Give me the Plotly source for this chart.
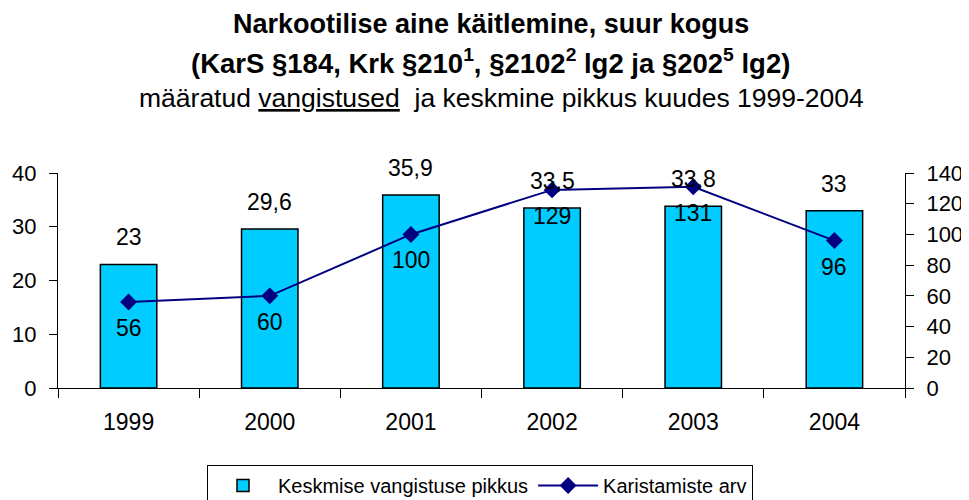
import plotly.graph_objects as go

years = ["1999", "2000", "2001", "2002", "2003", "2004"]
avg_length = [23, 29.6, 35.9, 33.5, 33.8, 33]
avg_labels = ["23", "29,6", "35,9", "33,5", "33,8", "33"]
convictions = [56, 60, 100, 129, 131, 96]
conv_labels = ["56", "60", "100", "129", "131", "96"]

FONT = "Liberation Sans, Arial, sans-serif"

# the page body has an 8px margin; the figure is sized so it ends at the window edge
OFF = 8
W, H = 969 - OFF, 500 - OFF
ML, MR, MT, MB = 58 - OFF, 64, 173 - OFF, 112
plot_top, plot_bot = 173 - OFF, 388 - OFF
plot_left, plot_w = ML, W - ML - MR

fig = go.Figure()
fig.add_trace(go.Bar(
    x=years, y=avg_length, name="Keskmise vangistuse pikkus",
    marker=dict(color="#00CCFF", line=dict(color="black", width=1.5)),
    width=0.4, yaxis="y",
))
fig.add_trace(go.Scatter(
    x=years, y=convictions, name="Karistamiste arv", yaxis="y2",
    mode="lines+markers",
    line=dict(color="#000080", width=2),
    marker=dict(symbol="diamond", size=13, color="#000080"),
))

annotations = []
for i, (v, t) in enumerate(zip(avg_length, avg_labels)):
    annotations.append(dict(x=i, y=v, xref="x", yref="y", text=t, showarrow=False,
                            yshift=27, font=dict(size=23, color="black", family=FONT)))
for i, (v, t) in enumerate(zip(convictions, conv_labels)):
    annotations.append(dict(x=i, y=v, xref="x", yref="y2", text=t, showarrow=False,
                            yshift=-26, font=dict(size=23, color="black", family=FONT)))

title_lines = [
    ("<b>Narkootilise aine käitlemine, suur kogus</b>", 24, 491, 27),
    ("<b>(KarS §184, Krk §210<sup>1</sup>, §2102<sup>2</sup> lg2 ja §202<sup>5</sup> lg2)</b>", 61, 490, 27.5),
    ("määratud <u>vangistused</u>  ja keskmine pikkus kuudes 1999-2004", 98, 501, 26.5),
]
for txt, ypix, xpix, fs in title_lines:
    yp = (plot_bot - (ypix - OFF)) / (plot_bot - plot_top)
    xp = ((xpix - OFF) - plot_left) / plot_w
    annotations.append(dict(x=xp, xref="paper", y=yp, yref="paper", text=txt,
                            showarrow=False, yanchor="middle", xanchor="center",
                            font=dict(size=fs, color="black", family=FONT)))

legend_y = (plot_bot - (465 - OFF)) / (plot_bot - plot_top)

fig.update_layout(
    width=W, height=H,
    margin=dict(l=ML, r=MR, t=MT, b=MB, autoexpand=False),
    paper_bgcolor="white", plot_bgcolor="white",
    font=dict(family=FONT, size=20, color="black"),
    showlegend=True,
    legend=dict(orientation="h", x=((480 - OFF) - plot_left) / plot_w, xanchor="center",
                y=legend_y, yanchor="top",
                bordercolor="black", borderwidth=1, font=dict(size=20, family=FONT),
                itemwidth=60),
    xaxis=dict(type="category", range=[-0.5, 5.5], showline=True, linecolor="black",
               linewidth=1, ticks="outside", ticklen=9, tickcolor="black",
               tickson="boundaries", showgrid=False, tickfont=dict(size=23),
               tickangle=0, ticklabelstandoff=13),
    yaxis=dict(range=[0, 40], dtick=10, showline=True, linecolor="black", linewidth=1,
               ticks="outside", ticklen=8, tickcolor="black", showgrid=False, zeroline=False,
               tickfont=dict(size=22), ticklabelstandoff=8),
    yaxis2=dict(range=[0, 140], dtick=20, overlaying="y", side="right", showline=True,
                linecolor="black", linewidth=1, ticks="outside", ticklen=8, tickcolor="black",
                showgrid=False, zeroline=False, tickfont=dict(size=22), ticklabelstandoff=8),
    yaxis3=dict(range=[0, 40], dtick=10, overlaying="y", side="left", showline=False,
                ticks="inside", ticklen=8, tickcolor="black", showticklabels=False,
                showgrid=False, zeroline=False),
    yaxis4=dict(range=[0, 140], dtick=20, overlaying="y", side="right", showline=False,
                ticks="inside", ticklen=8, tickcolor="black", showticklabels=False,
                showgrid=False, zeroline=False),
    annotations=annotations,
)

fig.write_html("out.html")
